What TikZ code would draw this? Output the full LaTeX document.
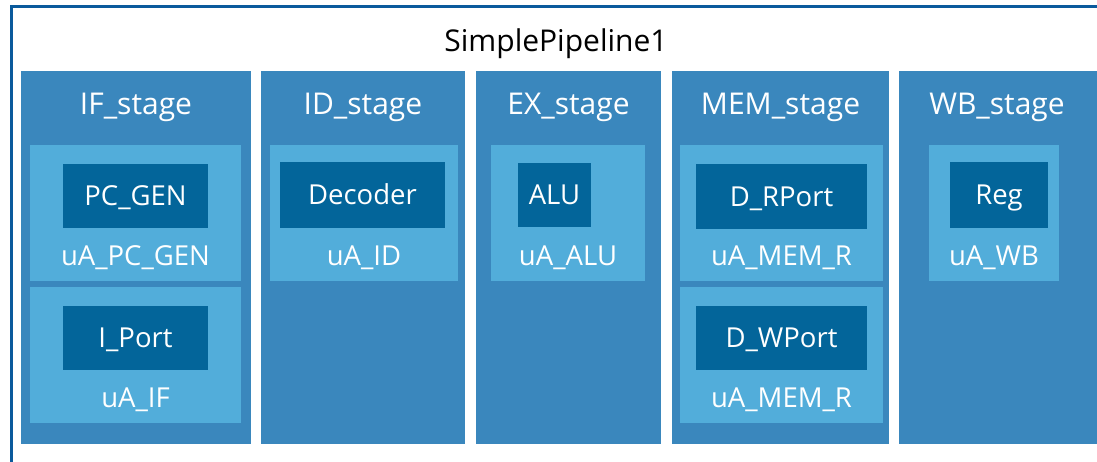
\documentclass[tikz,border=0pt]{standalone}
\usepackage{fontspec}
\setmainfont{Open Sans}
\definecolor{stagec}{HTML}{3A87BD}
\definecolor{lightc}{HTML}{52ADDA}
\definecolor{darkc}{HTML}{03659A}
\definecolor{framec}{HTML}{0A5A9C}
\newcommand{\bx}[6]{\node[#2, minimum width={(#5)-(#3)}, minimum height={(#6)-(#4)}] (#1) at ({((#3)+(#5))/2},{((#4)+(#6))/2})}
\tikzset{
  every node/.style={inner sep=0pt, outer sep=0pt},
  stagebox/.style={fill=stagec},
  lightbox/.style={fill=lightc},
  darkbox/.style={fill=darkc, text=white, font=\fontsize{27.5}{31}\selectfont, text height=19.5pt, text depth=0pt},
  lbl/.style={text=white, anchor=base, font=\fontsize{27.5}{31}\selectfont},
  slbl/.style={text=white, anchor=base, font=\fontsize{30}{34}\selectfont},
  ttl/.style={text=black, anchor=base, font=\fontsize{30}{34}\selectfont},
}
\begin{document}
\begin{tikzpicture}[x=1pt,y=-1pt]
\useasboundingbox (0,0) rectangle (1097,461);
\clip (0,0) rectangle (1097,461);
\fill[white] (0,0) rectangle (1097,461);
\node[draw=framec, line width=3.5pt, minimum width=1120pt, minimum height=490pt] (frame) at ({11.5+560},{6.5+245}) {};
\node[ttl] (title) at (556,51) {SimplePipeline1};
% stages
\bx{ifs}{stagebox}{21}{71}{251}{444} {};
\bx{ids}{stagebox}{261}{71}{465}{444} {};
\bx{exs}{stagebox}{476}{71}{661}{444} {};
\bx{mems}{stagebox}{672}{71}{889}{444} {};
\bx{wbs}{stagebox}{899}{71}{1110}{444} {};
\node[slbl] (ifl) at (136,114) {IF\_stage};
\node[slbl] (idl) at (363,114) {ID\_stage};
\node[slbl] (exl) at (568.5,114) {EX\_stage};
\node[slbl] (meml) at (780.5,114) {MEM\_stage};
\node[slbl] (wbl) at (997,114) {WB\_stage};
% light boxes
\bx{if1}{lightbox}{30}{145}{241}{281} {};
\bx{if2}{lightbox}{30}{287}{241}{423} {};
\bx{id1}{lightbox}{270}{145}{458}{281} {};
\bx{ex1}{lightbox}{491}{145}{645}{281} {};
\bx{mem1}{lightbox}{680}{145}{883}{281} {};
\bx{mem2}{lightbox}{680}{287}{883}{423} {};
\bx{wb1}{lightbox}{929}{145}{1059}{281} {};
% dark boxes
\bx{pcgen}{darkbox}{63}{164}{208}{228} {PC\_GEN};
\bx{iport}{darkbox}{63}{306}{208}{370} {I\_Port};
\bx{dec}{darkbox}{280}{162}{445}{228} {Decoder};
\bx{alu}{darkbox}{518}{163}{591}{227} {ALU};
\bx{drport}{darkbox}{696}{164}{867}{229} {D\_RPort};
\bx{dwport}{darkbox}{696}{306}{867}{370} {D\_WPort};
\bx{reg}{darkbox}{950}{162}{1048}{228} {Reg};
% unit labels
\node[lbl] (l1) at (135.5,265) {uA\_PC\_GEN};
\node[lbl] (l2) at (135.5,407) {uA\_IF};
\node[lbl] (l3) at (364,265) {uA\_ID};
\node[lbl] (l4) at (568,265) {uA\_ALU};
\node[lbl] (l5) at (781.5,265) {uA\_MEM\_R};
\node[lbl] (l6) at (781.5,407) {uA\_MEM\_R};
\node[lbl] (l7) at (994,265) {uA\_WB};
\end{tikzpicture}
\end{document}
